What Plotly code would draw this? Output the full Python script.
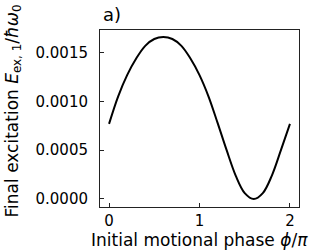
import plotly.graph_objects as go

phase = [0.0, 0.1, 0.2, 0.3, 0.4, 0.5, 0.6, 0.7, 0.8, 0.9, 1.0,
         1.1, 1.2, 1.3, 1.4, 1.5, 1.6, 1.7, 1.8, 1.9, 2.0]
excitation = [0.00077, 0.00105, 0.00127, 0.00144, 0.00157, 0.00164, 0.00166,
              0.00164, 0.00157, 0.00144, 0.00127, 0.00105, 0.00078, 0.00050,
              0.00024, 0.00006, 0.0, 0.00006, 0.00024, 0.00050, 0.00077]
xticks = [0, 1, 2]
yticks = [0.0, 0.0005, 0.0010, 0.0015]
ytick_text = ["0.0000", "0.0005", "0.0010", "0.0015"]

FONT = "DejaVu Sans"
XTITLE = "Initial motional phase <i>ϕ</i>/<i>π</i>"
YTITLE = "Final excitation <i>E</i><sub>ex, 1</sub>/<i>ħω</i><sub>0</sub>"

fig = go.Figure()
fig.add_trace(go.Scatter(x=phase, y=excitation, mode="lines",
                         line=dict(color="black", width=2, shape="spline", smoothing=1.0),
                         showlegend=False, hoverinfo="skip"))

axis_common = dict(showline=True, linecolor="#222", linewidth=1, mirror=True,
                   ticks="inside", ticklen=4, tickwidth=1, tickcolor="#222",
                   showgrid=False, zeroline=False,
                   tickfont=dict(family=FONT, size=15, color="black"))

fig.update_layout(
    width=332, height=252,
    margin=dict(l=100, r=33, t=30, b=45),
    paper_bgcolor="white", plot_bgcolor="white",
    font=dict(family=FONT, color="black"),
    xaxis=dict(range=[-0.1, 2.1], tickvals=xticks, ticktext=[str(v) for v in xticks],
               **axis_common),
    yaxis=dict(range=[-0.0000825, 0.0017325], tickvals=yticks, ticktext=ytick_text,
               ticklabelstandoff=8,
               **axis_common),
    annotations=[
        dict(text="a)", xref="paper", yref="paper", x=0, y=1,
             xanchor="left", yanchor="bottom", xshift=1, yshift=3, showarrow=False,
             font=dict(family=FONT, size=18, color="black")),
        dict(text=XTITLE, xref="paper", yref="paper", x=0.5, y=0,
             xanchor="center", yanchor="middle", yshift=-33, showarrow=False,
             font=dict(family=FONT, size=17, color="black")),
        dict(text=YTITLE, xref="paper", yref="paper", x=0, y=0.54, textangle=-90,
             xanchor="center", yanchor="middle", xshift=-87, showarrow=False,
             font=dict(family=FONT, size=17, color="black")),
    ],
)

fig.write_html("out.html", config={"displayModeBar": False},
               post_script="document.body.style.margin='0';document.body.style.padding='0';")
